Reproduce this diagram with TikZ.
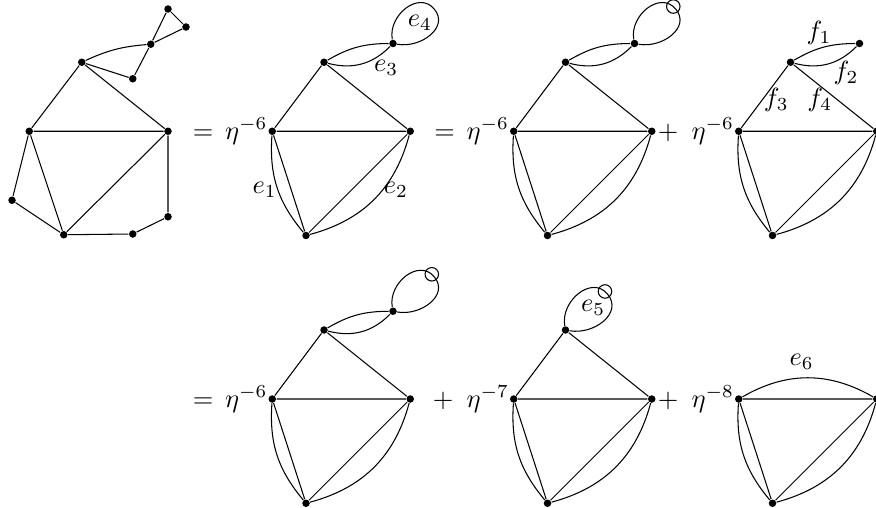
\documentclass[tikz,border=0pt]{standalone}

\tikzset{
  vert/.style={circle,fill,inner sep=0pt,minimum size=0.1cm},
  ring/.style={circle,draw,inner sep=0pt,minimum size=0.18cm},
  lp/.style={looseness=1.2},
}

\begin{document}
\begin{tikzpicture}[scale=1.0]
\useasboundingbox (0,-6.773) rectangle (11.68,0);

% the graph itself
\node[vert] (a1) at (1.09,-0.83) {};
\node[vert] (l1) at (0.39,-1.75) {};
\node[vert] (r1) at (2.24,-1.75) {};
\node[vert] (b1) at (0.85,-3.13) {};
\node[vert] (p1) at (0.16,-2.67) {};
\node[vert] (q1) at (1.77,-3.12) {};
\node[vert] (s1) at (2.24,-2.89) {};
\node[vert] (c1) at (2.01,-0.59) {};
\node[vert] (d1) at (1.77,-1.05) {};
\node[vert] (t1) at (2.24,-0.12) {};
\node[vert] (u1) at (2.48,-0.36) {};
\draw (l1) -- (a1) -- (r1) -- (l1) -- (b1) -- (r1);
\draw (l1) -- (p1) -- (b1) -- (q1) -- (s1) -- (r1);
\draw (a1) to[bend left=10] (c1);
\draw (a1) -- (d1) -- (c1) -- (t1) -- (u1) -- (c1);

% first term
\node[vert] (l2) at (3.63,-1.75) {};
\node[vert] (r2) at (5.47,-1.75) {};
\node[vert] (a2) at (4.32,-0.83) {};
\node[vert] (b2) at (4.08,-3.14) {};
\node[vert] (c2) at (5.24,-0.58) {};
\coordinate (k2) at (5.79,-0.12);
\node[anchor=east,inner sep=0pt] (eq2) at (l2.west) {$=\,\eta^{-6}$};
\draw (l2) -- (a2) -- (r2) -- (l2) -- (b2) -- (r2);
\draw (l2) to[bend right=22] (b2);
\draw (b2) to[bend right=30] (r2);
\draw (a2) to[bend left=15] (c2);
\draw (a2) to[bend right=30] (c2);
\draw (c2) to[out=100,in=130,lp] (k2) to[out=-50,in=-10,lp] (c2);
\node (e1) at (3.53,-2.53) {$e_1$};
\node (e2) at (5.28,-2.53) {$e_2$};
\node (e3) at (5.15,-0.91) {$e_3$};
\node (e4) at (5.60,-0.31) {$e_4$};

% loop e4 with a vertex on it
\node[vert] (l3) at (6.85,-1.75) {};
\node[vert] (r3) at (8.69,-1.75) {};
\node[vert] (a3) at (7.54,-0.83) {};
\node[vert] (b3) at (7.30,-3.14) {};
\node[vert] (c3) at (8.46,-0.58) {};
\coordinate (k3) at (9.01,-0.12);
\node[anchor=east,inner sep=0pt] (eq3) at (l3.west) {$=\,\eta^{-6}$};
\draw (l3) -- (a3) -- (r3) -- (l3) -- (b3) -- (r3);
\draw (l3) to[bend right=22] (b3);
\draw (b3) to[bend right=30] (r3);
\draw (a3) to[bend left=15] (c3);
\draw (a3) to[bend right=30] (c3);
\draw (c3) to[out=100,in=130,lp] node[ring,pos=0.95] (o3) {} (k3) to[out=-50,in=-10,lp] (c3);

% loop e4 deleted
\node[vert] (l4) at (9.85,-1.75) {};
\node[vert] (r4) at (11.69,-1.75) {};
\node[vert] (a4) at (10.54,-0.83) {};
\node[vert] (b4) at (10.30,-3.14) {};
\node[vert] (c4) at (11.46,-0.58) {};
\node[anchor=east,inner sep=0pt] (eq4) at (l4.west) {$+\enspace\eta^{-6}$};
\draw (l4) -- (a4) -- (r4) -- (l4) -- (b4) -- (r4);
\draw (l4) to[bend right=22] (b4);
\draw (b4) to[bend right=30] (r4);
\draw (a4) to[bend left=15] (c4);
\draw (a4) to[bend right=30] (c4);
\node (f1) at (10.92,-0.44) {$f_1$};
\node (f2) at (11.28,-0.97) {$f_2$};
\node (f3) at (10.35,-1.33) {$f_3$};
\node (f4) at (10.93,-1.33) {$f_4$};

% second row
\node[vert] (l5) at (3.63,-5.32) {};
\node[vert] (r5) at (5.47,-5.32) {};
\node[vert] (a5) at (4.32,-4.40) {};
\node[vert] (b5) at (4.08,-6.71) {};
\node[vert] (c5) at (5.24,-4.15) {};
\coordinate (k5) at (5.79,-3.69);
\node[anchor=east,inner sep=0pt] (eq5) at (l5.west) {$=\,\eta^{-6}$};
\draw (l5) -- (a5) -- (r5) -- (l5) -- (b5) -- (r5);
\draw (l5) to[bend right=22] (b5);
\draw (b5) to[bend right=30] (r5);
\draw (a5) to[bend left=15] (c5);
\draw (a5) to[bend right=30] (c5);
\draw (c5) to[out=100,in=130,lp] node[ring,pos=0.95] (o5) {} (k5) to[out=-50,in=-10,lp] (c5);

\node[vert] (l6) at (6.85,-5.32) {};
\node[vert] (r6) at (8.69,-5.32) {};
\node[vert] (a6) at (7.54,-4.40) {};
\node[vert] (b6) at (7.30,-6.71) {};
\coordinate (k6) at (8.10,-3.92);
\node[anchor=east,inner sep=0pt] (eq6) at (l6.west) {$+\enspace\eta^{-7}$};
\draw (l6) -- (a6) -- (r6) -- (l6) -- (b6) -- (r6);
\draw (l6) to[bend right=22] (b6);
\draw (b6) to[bend right=30] (r6);
\draw (a6) to[out=100,in=130,lp] node[ring,pos=0.95] (o6) {} (k6) to[out=-50,in=-10,lp] (a6);
\node (e5) at (7.91,-4.11) {$e_5$};

\node[vert] (l7) at (9.85,-5.32) {};
\node[vert] (r7) at (11.69,-5.32) {};
\node[vert] (b7) at (10.30,-6.71) {};
\node[anchor=east,inner sep=0pt] (eq7) at (l7.west) {$+\enspace\eta^{-8}$};
\draw (l7) -- (r7) -- (b7) -- (l7);
\draw (l7) to[bend right=22] (b7);
\draw (b7) to[bend right=30] (r7);
\draw (l7) to[bend left=30] (r7);
\node (e6) at (10.69,-4.83) {$e_6$};
\end{tikzpicture}
\end{document}
